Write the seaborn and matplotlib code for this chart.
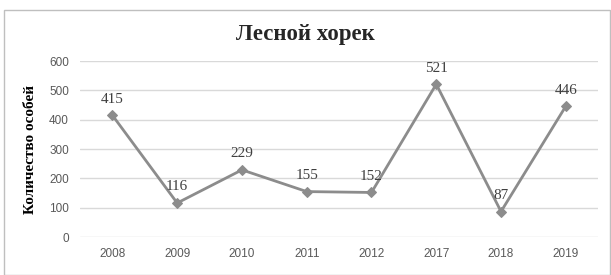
import pandas as pd
import seaborn as sns
import matplotlib.pyplot as plt
from matplotlib.patches import Rectangle

years = ["2008", "2009", "2010", "2011", "2012", "2017", "2018", "2019"]
counts = [415, 116, 229, 155, 152, 521, 87, 446]

df = pd.DataFrame({"year": years, "count": counts})

sns.set_style("white")
plt.rcParams["font.family"] = ["Liberation Sans", "DejaVu Sans"]

fig = plt.figure(figsize=(6.11, 2.75), dpi=100)
ax = fig.add_axes([0.131, 0.138, 0.848, 0.640])

sns.lineplot(data=df, x="year", y="count", ax=ax, sort=False,
             color="#8c8c8c", linewidth=2, marker="D", markersize=5,
             markeredgecolor="#8c8c8c", markerfacecolor="#8c8c8c")

# подписи значений
for i, v in enumerate(counts):
    ax.annotate(str(v), (i, v), xytext=(0, 7), textcoords="offset points",
                ha="center", va="bottom", fontsize=11, color="#404040",
                family="Liberation Serif")

ax.set_ylim(0, 600)
ax.set_yticks(range(0, 601, 100))
ax.set_xlim(-0.5, len(years) - 0.5)
ax.yaxis.grid(True, color="#d9d9d9", linewidth=1)
ax.set_axisbelow(True)
for s in ax.spines.values():
    s.set_visible(False)
ax.tick_params(axis="both", length=0, labelsize=8.5, colors="#595959", pad=8)
ax.set_xlabel("")
ax.set_ylabel("Количество особей", fontsize=11, fontweight="bold",
              family="Liberation Serif", color="#000000", labelpad=9)

fig.text(0.5, 0.875, "Лесной хорек", ha="center", va="center", fontsize=16.5,
         fontweight="bold", family="Liberation Serif")

fig.patches.append(Rectangle((0.006, 0.0), 0.992, 0.965, transform=fig.transFigure,
                             fill=False, edgecolor="#bfbfbf", linewidth=1))

fig.savefig("out.png", dpi=100)
